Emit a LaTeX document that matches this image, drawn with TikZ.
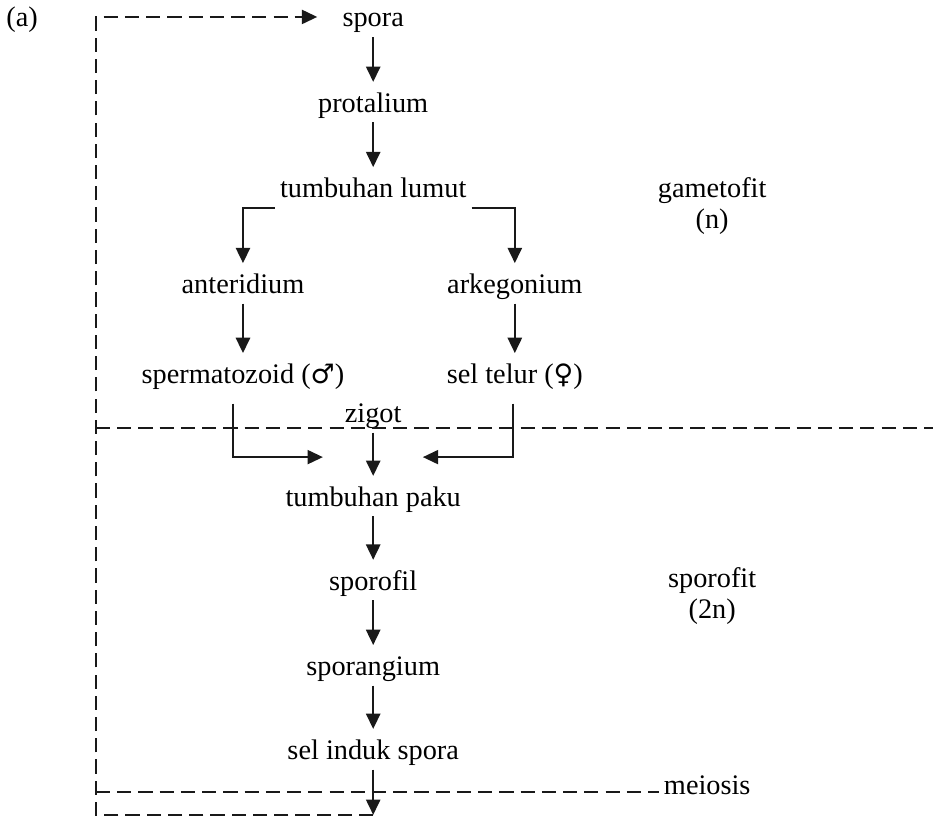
\documentclass[tikz,border=0pt]{standalone}
\usepackage{fontspec}
\setmainfont{Liberation Serif}
\newfontfamily\sexsym[Scale=0.95]{DejaVu Sans}
\usetikzlibrary{arrows.meta}
\tikzset{
  stage/.style={anchor=base,inner xsep=2pt,inner ysep=1.6pt,text height=11pt,text depth=2.6pt},
  zonelbl/.style={anchor=base,inner sep=1pt},
  flow/.style={-{Triangle[length=6.5pt,width=6pt]},line width=0.95pt,black!90},
  joinflow/.style={flow,line width=0.7pt},
  zoneline/.style={dash pattern=on 6pt off 3pt,line width=0.75pt,black!90},
  zoneflow/.style={zoneline,-{Triangle[length=6.5pt,width=6pt]}},
}

\begin{document}
\begin{tikzpicture}[font=\fontsize{12}{14}\selectfont]
  \useasboundingbox (0,0) rectangle (13.90,-12.17);
  % stages of the cycle
  \node[zonelbl] (lblA) at (0.33,-0.40) {(a)};
  \node[stage] (nSpora) at (5.56,-0.40) {spora};
  \node[stage] (nProt) at (5.56,-1.67) {protalium};
  \node[stage] (nLumut) at (5.56,-2.94) {tumbuhan lumut};
  \node[stage] (nAnter) at (3.62,-4.37) {anteridium};
  \node[stage] (nArke) at (7.67,-4.37) {arkegonium};
  \node[stage] (nSperm) at (3.62,-5.71) {spermatozoid ({\sexsym ♂})};
  \node[stage] (nTelur) at (7.67,-5.71) {sel telur ({\sexsym ♀})};
  \node[stage] (nZigot) at (5.56,-6.29) {zigot};
  \node[stage] (nPaku) at (5.56,-7.54) {tumbuhan paku};
  \node[stage] (nFil) at (5.56,-8.79) {sporofil};
  \node[stage] (nAngium) at (5.56,-10.06) {sporangium};
  \node[stage] (nInduk) at (5.56,-11.31) {sel induk spora};
  % phase labels
  \node[zonelbl] (lblGam) at (10.61,-2.94) {gametofit};
  \node[zonelbl] (lblGamN) at (10.61,-3.40) {(n)};
  \node[zonelbl] (lblSpo) at (10.61,-8.75) {sporofit};
  \node[zonelbl] (lblSpoN) at (10.61,-9.21) {(2n)};
  \node[anchor=base west,inner sep=1pt] (lblMei) at (9.85,-11.84) {meiosis};
  \coordinate (cSpermIn) at (4.81,-6.81);
  \coordinate (cTelurIn) at (6.30,-6.81);
  \coordinate (cBot) at (5.56,-12.14);
  \coordinate (cLoop) at (1.43,-12.14);
  \coordinate (cZoneL) at (1.43,-6.38);
  \coordinate (cZoneR) at (13.90,-6.38);
  \coordinate (cMeiL) at (1.43,-11.80);
  \coordinate (cMeiR) at (9.82,-11.80);
  % arrows
  \draw[flow] (nSpora) -- (nProt);
  \draw[flow] (nProt) -- (nLumut);
  \draw[flow] (nLumut.south west) -| (nAnter.north);
  \draw[flow] (nLumut.south east) -| (nArke.north);
  \draw[flow] (nAnter) -- (nSperm);
  \draw[flow] (nArke) -- (nTelur);
  \draw[joinflow] ([xshift=-0.15cm,yshift=-0.15cm]nSperm.south) |- (cSpermIn);
  \draw[joinflow] ([xshift=-0.03cm,yshift=-0.15cm]nTelur.south) |- (cTelurIn);
  \draw[flow] (nZigot) -- (nPaku);
  \draw[flow] (nPaku) -- (nFil);
  \draw[flow] (nFil) -- (nAngium);
  \draw[flow] (nAngium) -- (nInduk);
  \draw[flow] (nInduk) -- (cBot);
  % dashed limits and return path
  \draw[zoneline] (cZoneL) -- (cZoneR);
  \draw[zoneline] (cMeiL) -- (cMeiR);
  \draw[zoneflow] (cBot) -- (cLoop) |- ([xshift=-0.3cm]nSpora.west);
\end{tikzpicture}
\end{document}
